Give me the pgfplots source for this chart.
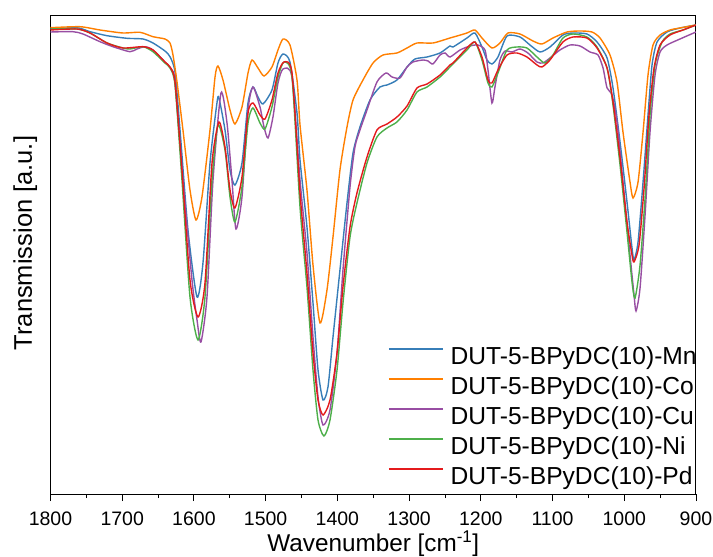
\documentclass[border=0pt]{standalone}
\usepackage{fontspec}
\setmainfont{Liberation Sans}
\usepackage{pgfplots}
\pgfplotsset{compat=1.18}
\definecolor{cMn}{HTML}{377EB8}
\definecolor{cCo}{HTML}{FF7F00}
\definecolor{cCu}{HTML}{984EA3}
\definecolor{cNi}{HTML}{4DAF4A}
\definecolor{cPd}{HTML}{E41A1C}
\begin{document}
\begin{tikzpicture}
\begin{axis}[
  scale only axis, width=645.5bp, height=478bp,
  x dir=reverse, xmin=900, xmax=1800, ymin=0, ymax=478,
  ytick=\empty,
  xtick={900,1000,...,1800}, minor x tick num=1,
  xtick pos=bottom, tick align=outside,
  major tick length=7bp, minor tick length=4bp,
  every tick/.style={black, line width=0.9bp},
  axis line style={black, line width=1bp},
  /pgf/number format/assume math mode=true,
  /pgf/number format/1000 sep={},
  xticklabel style={font=\fontsize{19.5bp}{23bp}\selectfont, inner sep=0pt, text height=14bp, anchor=north, yshift=-10bp},
  xlabel={Wavenumber [cm\textsuperscript{-1}]},
  xlabel style={font=\fontsize{24.3bp}{29bp}\selectfont, at={(axis description cs:0.5,0)}, anchor=base, yshift=-57bp, inner sep=0pt},
  ylabel={Transmission [a.u.]},
  ylabel style={font=\fontsize{25.5bp}{30bp}\selectfont, at={(axis description cs:0,0.525)}, anchor=base, yshift=18.5bp, inner sep=0pt},
  legend cell align=left,
  legend style={draw=none, fill=none, at={(axis cs:1329.4,146.7)}, anchor=north west,
    font=\fontsize{24.6bp}{29bp}\selectfont, row sep=7.3bp, column sep=7bp, inner sep=0pt, outer sep=0pt,
    nodes={inner sep=0pt, text height=17.7bp, text depth=5bp}},
  legend image code/.code={\draw[#1, line width=1.6bp, sharp plot] (0bp,9.5bp) -- (54bp,9.5bp);},
  every axis plot/.append style={line width=1.4bp, smooth, tension=0.4},
]
\addplot[cMn] coordinates {
(1800,465) (1763.1,466.3) (1744.9,462.3) (1721.2,458.3) (1693.3,455.7) (1671.0,455) (1657.1,451) (1640.4,443) (1633.4,437.3) (1626.4,422) (1619.4,364) (1608.3,264) (1595.7,197) (1587.4,231) (1577.6,331) (1567.9,391) (1565.1,396) (1556.7,364) (1549.7,324) (1542.8,309) (1533.0,331) (1524.6,391) (1517.7,407) (1510.7,397) (1503.7,390) (1491.2,404) (1482.8,431) (1475.8,440) (1466.1,432) (1456.3,381) (1452.1,334) (1442.4,267) (1434.0,191) (1427.0,124) (1420.0,94) (1413.1,107) (1406.1,157) (1396.4,224) (1386.6,291) (1378.2,341) (1368.5,367) (1354.5,394) (1340.6,407) (1330.8,409) (1316.9,414) (1302.9,427) (1291.8,435) (1275.0,437) (1256.9,441) (1243.0,448) (1238.8,447) (1219.3,456) (1208.2,461) (1198.4,447) (1191.4,434) (1184.5,430) (1176.1,437) (1163.5,458) (1145.4,457) (1131.5,449) (1117.5,442) (1103.6,447) (1085.5,459) (1071.5,461) (1052.0,460) (1038.0,452) (1024.0,436) (1015.7,406) (1005.9,352) (996.2,292) (989.2,246) (986.4,234) (980.8,252) (973.8,312) (966.9,379) (961.3,429) (954.3,452) (940.4,462) (922.3,466) (900,469)
};
\addlegendentry{DUT-5-BPyDC(10)-Mn}
\addplot[cCo] coordinates {
(1800,466.3) (1758.9,467.3) (1731.0,464) (1698.9,461) (1675.2,461.7) (1657.1,457.3) (1640.4,455) (1633.4,451) (1629.2,439) (1623.6,412) (1615.3,364) (1605.5,304) (1597.1,274) (1588.8,297) (1577.6,364) (1570.6,417) (1566.5,428) (1559.5,414) (1549.7,384) (1542.8,370) (1533.0,387) (1524.6,421) (1519.0,434) (1510.7,426) (1502.3,418) (1491.2,427) (1482.8,444) (1475.8,455) (1466.1,449) (1456.3,414) (1452.1,369) (1442.4,304) (1434.0,229) (1424.2,171) (1414.5,204) (1406.1,257) (1396.4,324) (1386.6,367) (1378.2,394) (1364.3,414) (1350.3,431) (1336.4,439) (1316.9,441) (1302.9,446) (1289.0,451) (1266.7,451) (1243.0,456) (1233.2,458) (1219.3,461) (1208.2,464) (1198.4,456) (1184.5,446) (1173.3,451) (1162.2,461) (1145.4,460) (1127.3,453) (1114.8,450) (1099.4,456) (1079.9,462) (1061.7,463) (1045.0,462) (1033.8,456) (1019.9,439) (1010.1,412) (1001.8,362) (992.0,312) (987.8,296) (980.8,312) (973.8,362) (966.9,419) (959.9,449) (950.1,459) (936.2,464) (922.3,466) (900,469)
};
\addlegendentry{DUT-5-BPyDC(10)-Co}
\addplot[cCu] coordinates {
(1800,462) (1768.6,462.3) (1754.7,460) (1731.0,452.3) (1712.9,447.3) (1689.2,442.3) (1679.4,445) (1668.2,447.3) (1657.1,444) (1640.4,432) (1630.6,424) (1626.4,412) (1615.3,314) (1602.7,214) (1595.7,174) (1590.2,152) (1581.8,197) (1573.4,314) (1562.3,401) (1553.9,371) (1547.0,314) (1541.4,265) (1533.0,297) (1524.6,384) (1517.7,407) (1507.9,387) (1502.3,367) (1496.7,356) (1489.8,377) (1482.8,411) (1475.8,425) (1463.3,417) (1452.1,314) (1442.4,241) (1434.0,157) (1427.0,97) (1420.0,69) (1410.3,84) (1400.5,141) (1392.2,224) (1382.4,307) (1375.5,347) (1368.5,364) (1358.7,384) (1344.8,412) (1332.2,421) (1323.8,417) (1312.7,416) (1302.9,427) (1294.6,432) (1280.6,434) (1273.6,433) (1266.7,430) (1256.9,439) (1249.9,441) (1243.0,437) (1229.0,444) (1215.1,448) (1204.0,449) (1194.2,444) (1190.0,424) (1184.5,391) (1180.3,407) (1173.3,434) (1166.3,443) (1156.6,442) (1145.4,445) (1134.3,441) (1121.7,432) (1113.4,431) (1103.6,436) (1089.7,444) (1075.7,449) (1061.7,448) (1047.8,442) (1036.6,439) (1029.6,426) (1024.0,406) (1017.1,399) (1010.1,372) (1001.8,312) (992.0,239) (986.4,199) (983.6,183) (978.0,206) (971.0,279) (964.1,362) (957.1,419) (950.1,442) (940.4,449) (922.3,455) (900,462)
};
\addlegendentry{DUT-5-BPyDC(10)-Cu}
\addplot[cNi] coordinates {
(1800,465) (1763.1,465) (1744.9,461) (1721.2,451) (1698.9,446) (1689.2,445) (1671.0,447.3) (1657.1,442.3) (1640.4,431) (1633.4,426) (1626.4,409) (1616.7,314) (1605.5,197) (1594.3,154) (1584.6,197) (1574.8,314) (1566.5,369) (1556.7,344) (1549.7,297) (1542.8,272) (1533.0,307) (1524.6,371) (1517.7,386) (1507.9,371) (1500.9,365) (1491.2,387) (1482.8,417) (1474.4,432) (1463.3,417) (1452.1,287) (1442.4,207) (1434.0,124) (1427.0,74) (1418.7,58) (1410.3,74) (1400.5,124) (1392.2,191) (1382.4,257) (1372.7,291) (1358.7,331) (1344.8,357) (1330.8,366) (1316.9,372) (1302.9,384) (1289.0,402) (1275.0,407) (1256.9,417) (1243.0,427) (1219.3,444) (1208.2,452) (1198.4,434) (1190.0,411) (1184.5,407) (1176.1,421) (1163.5,444) (1149.6,447) (1135.7,446) (1121.7,437) (1110.6,431) (1099.4,439) (1085.5,456) (1071.5,460) (1052.0,457) (1038.0,447) (1024.0,426) (1015.7,389) (1005.9,329) (996.2,262) (989.2,212) (985.0,196) (978.0,229) (971.0,296) (964.1,379) (957.1,429) (947.3,452) (936.2,460) (918.1,464) (900,469)
};
\addlegendentry{DUT-5-BPyDC(10)-Ni}
\addplot[cPd] coordinates {
(1800,464) (1763.1,465) (1744.9,461) (1721.2,451) (1698.9,446) (1671.0,447.3) (1657.1,444) (1640.4,432) (1633.4,427) (1626.4,412) (1616.7,324) (1605.5,214) (1594.3,177) (1584.6,211) (1574.8,331) (1565.1,372) (1556.7,347) (1549.7,304) (1542.8,286) (1533.0,317) (1524.6,381) (1517.7,391) (1507.9,379) (1500.9,375) (1491.2,394) (1482.8,421) (1474.4,432) (1463.3,421) (1452.1,301) (1442.4,221) (1434.0,141) (1427.0,94) (1420.0,79) (1410.3,94) (1400.5,141) (1392.2,207) (1382.4,267) (1372.7,301) (1358.7,337) (1344.8,364) (1330.8,370) (1316.9,377) (1302.9,388) (1289.0,406) (1275.0,410) (1256.9,419) (1243.0,429) (1238.8,431) (1219.3,446) (1208.2,452) (1198.4,437) (1190.0,414) (1184.5,411) (1176.1,424) (1163.5,439) (1149.6,441) (1135.7,437) (1121.7,429) (1114.8,427) (1103.6,434) (1085.5,452) (1071.5,457) (1052.0,456) (1038.0,446) (1024.0,426) (1015.7,392) (1005.9,336) (996.2,272) (989.2,239) (986.4,232) (979.4,249) (972.4,306) (965.5,379) (958.5,426) (950.1,449) (936.2,459) (918.1,464) (900,469)
};
\addlegendentry{DUT-5-BPyDC(10)-Pd}
\end{axis}
\pgfresetboundingbox
\path (-50.5bp,-63bp) rectangle (662.5bp,494bp);
\end{tikzpicture}
\end{document}
